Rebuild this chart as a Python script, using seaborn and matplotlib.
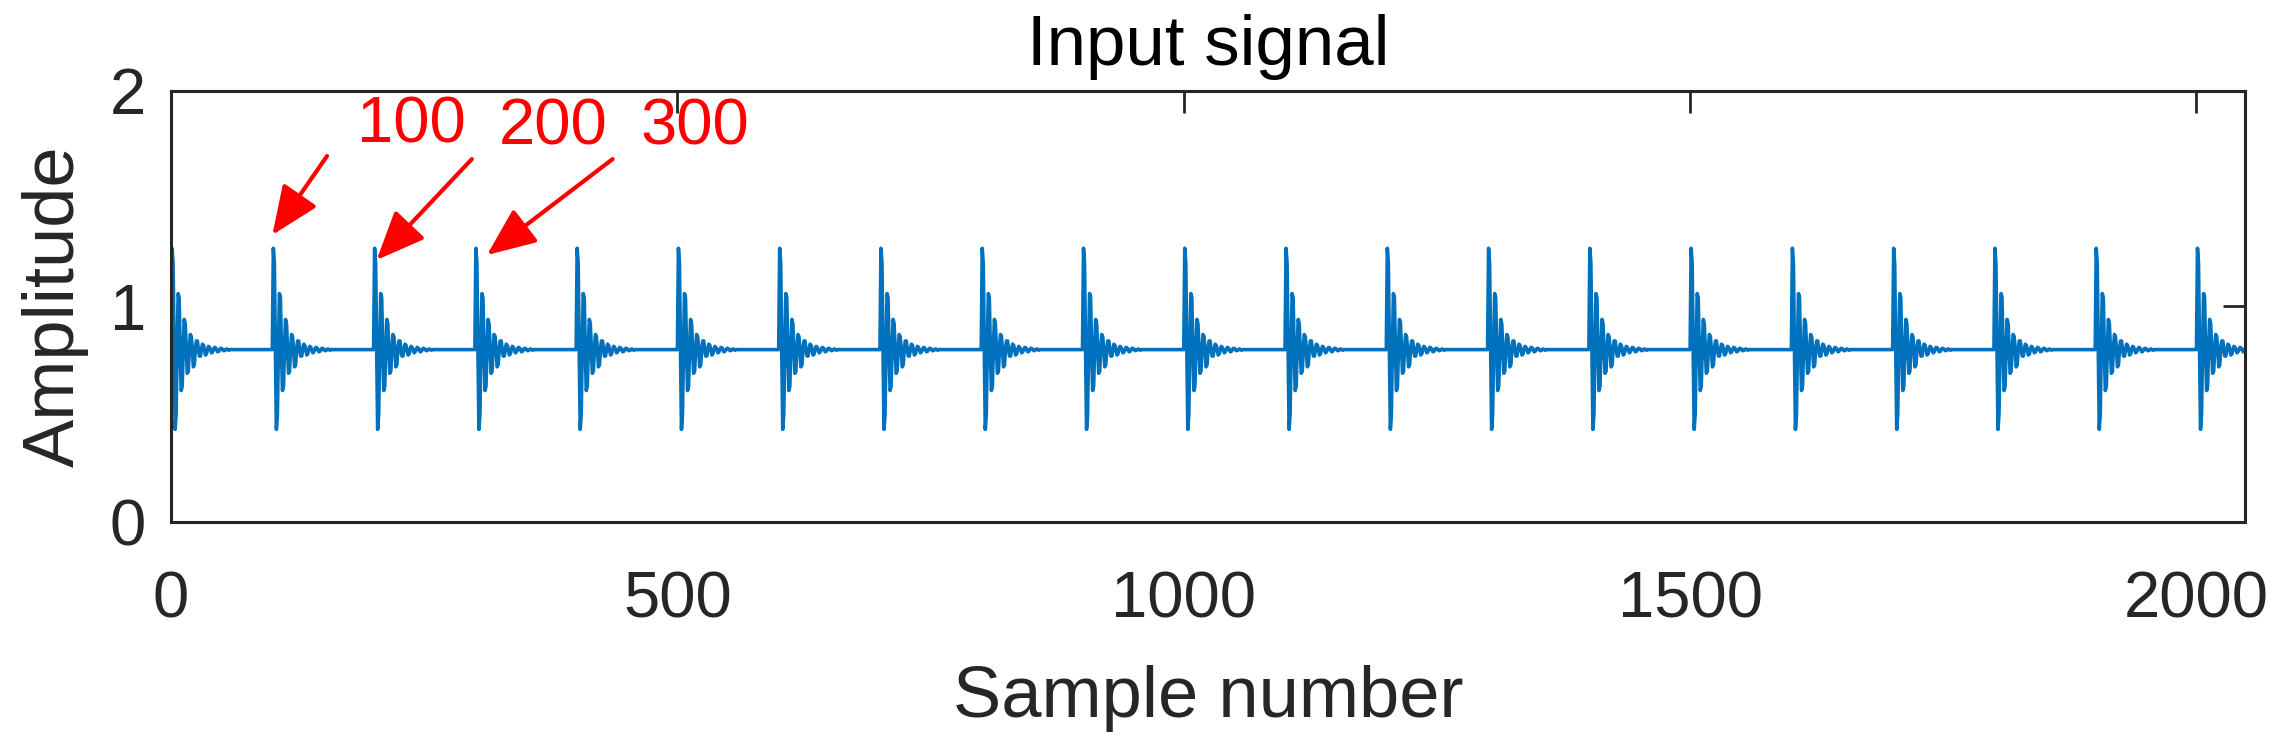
import numpy as np
import pandas as pd
import matplotlib
matplotlib.use("Agg")
import matplotlib.pyplot as plt
import seaborn as sns

# where each burst starts (samples)
pulse_starts = [0, 100, 200, 300, 400, 500, 600, 700, 800, 900, 1000,
                1100, 1200, 1300, 1400, 1500, 1600, 1700, 1800, 1900, 2000]

# one burst, sample by sample (offset 0 = burst start)
pulse_values = [0.80, 1.27, 1.20, 0.80, 0.43, 0.50, 0.80, 1.06, 1.04, 0.80,
                0.61, 0.63, 0.80, 0.94, 0.92, 0.80, 0.69, 0.70, 0.80, 0.87,
                0.86, 0.80, 0.72, 0.73, 0.80, 0.84, 0.84, 0.80, 0.77, 0.77,
                0.80, 0.825, 0.82, 0.80, 0.775, 0.78, 0.80, 0.815, 0.81, 0.80,
                0.785, 0.79, 0.80, 0.81, 0.808, 0.80, 0.79, 0.792, 0.80,
                0.806, 0.805, 0.80, 0.795, 0.796, 0.80, 0.803, 0.80, 0.797,
                0.80]

last_sample = 2047
baseline = 0.80

# annotations: label, text position, arrow start, arrow tip
ann_labels = ["100", "200", "300"]
ann_text_xy = [(237, 1.763), (377, 1.75), (517, 1.75)]
ann_arrow_from = [(154, 1.698), (297, 1.684), (436, 1.684)]
ann_arrow_to = [(100, 1.332), (203, 1.216), (312, 1.239)]

xs, ys = [], []
for p in pulse_starts:
    for off, v in enumerate(pulse_values):
        xs.append(p + off)
        ys.append(v)
xs.append(last_sample)
ys.append(baseline)
df = pd.DataFrame({"sample": xs, "amplitude": ys})

sns.set_style("white")
plt.rcParams["font.family"] = ["Liberation Sans", "DejaVu Sans"]

fig, ax = plt.subplots(figsize=(22.93, 7.55), dpi=100)
fig.subplots_adjust(left=0.0746, right=0.9791, bottom=0.3086, top=0.8795)

sns.lineplot(data=df, x="sample", y="amplitude", estimator=None,
             color="#0072BD", linewidth=2.6, ax=ax)

ax.set_xlim(0, 2048)
ax.set_ylim(0, 2)
ax.set_xticks([0, 500, 1000, 1500, 2000])
ax.set_yticks([0, 1, 2])

for sp in ax.spines.values():
    sp.set_visible(True)
    sp.set_color("#262626")
    sp.set_linewidth(2.2)

ax.tick_params(axis="both", direction="in", length=16, width=2.0,
               color="#262626", labelcolor="#262626", labelsize=47,
               top=True, right=True)
ax.tick_params(axis="x", pad=35)
ax.tick_params(axis="y", pad=18)

ax.set_xlabel("Sample number", fontsize=52, color="#262626", labelpad=25)
ax.set_ylabel("Amplitude", fontsize=52, color="#262626", labelpad=15)
ax.set_title("Input signal", fontsize=51, color="black", pad=19)

for lab, txy, a0, a1 in zip(ann_labels, ann_text_xy, ann_arrow_from, ann_arrow_to):
    ax.text(txy[0], txy[1], lab, color="red", fontsize=47,
            ha="center", va="baseline")
    ax.annotate("", xy=a1, xytext=a0,
                arrowprops=dict(arrowstyle="-|>,head_length=0.4,head_width=0.17",
                                mutation_scale=75, color="red", lw=3,
                                shrinkA=0, shrinkB=0))

fig.savefig("out.png", dpi=100)
